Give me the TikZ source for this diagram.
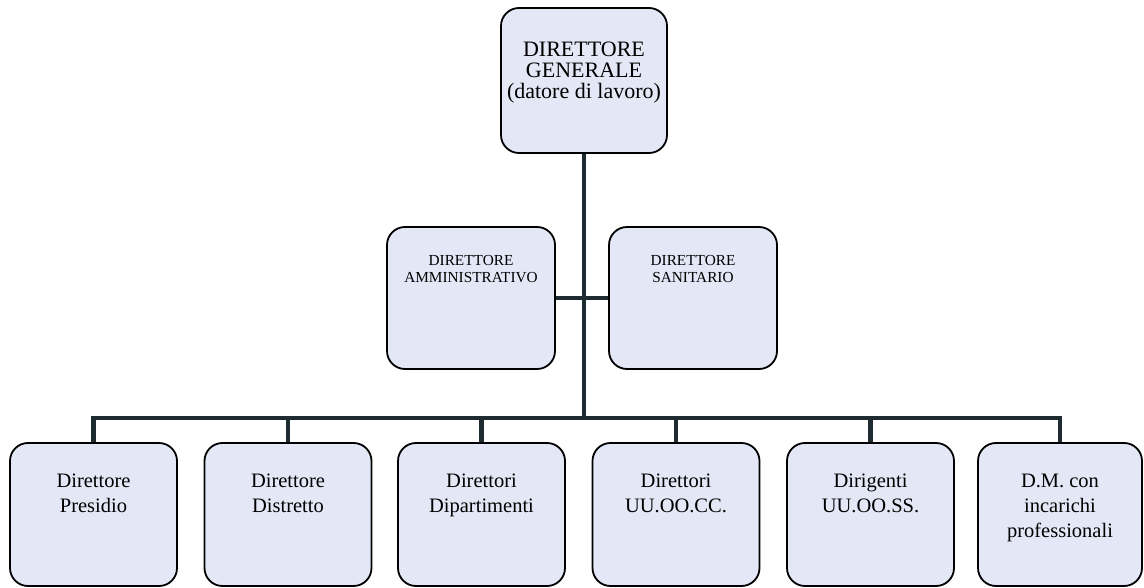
\documentclass[tikz,border=0pt]{standalone}
\usepackage{fontspec}
\setmainfont{Liberation Serif}
\definecolor{boxfill}{RGB}{228,232,246}
\definecolor{linecol}{RGB}{30,44,50}
\begin{document}
\begin{tikzpicture}[x=1pt,y=-1pt,
  orgbox/.style={draw=black, line width=1.8pt, fill=boxfill, rounded corners=18pt, inner sep=0pt},
  conn/.style={draw=linecol, line width=4.5pt},
  toptext/.style={anchor=north, inner sep=0pt, align=center, font=\fontsize{22}{21}\selectfont},
  midtext/.style={anchor=north, inner sep=0pt, align=center, font=\fontsize{15.3}{16.7}\selectfont},
  bottext/.style={anchor=north, inner sep=0pt, align=center, font=\fontsize{20.5}{25}\selectfont}]
\useasboundingbox (0,0) rectangle (1144,588);

% boxes
\node[orgbox, minimum width=166pt, minimum height=145pt] (dg) at (584,80.5) {};
\node[orgbox, minimum width=168pt, minimum height=142pt] (da) at (471,298) {};
\node[orgbox, minimum width=168pt, minimum height=142pt] (ds) at (693,298) {};
\node[orgbox, minimum width=167pt, minimum height=143pt] (b1) at (93.5,514.5) {};
\node[orgbox, minimum width=167pt, minimum height=143pt] (b2) at (288,514.5) {};
\node[orgbox, minimum width=167pt, minimum height=143pt] (b3) at (481.5,514.5) {};
\node[orgbox, minimum width=167pt, minimum height=143pt] (b4) at (676,514.5) {};
\node[orgbox, minimum width=167pt, minimum height=143pt] (b5) at (870.5,514.5) {};
\node[orgbox, minimum width=164pt, minimum height=143pt] (b6) at (1060,514.5) {};

% texts
\node[toptext] (dgt) at ([yshift=-35pt]dg.north) {DIRETTORE\\GENERALE\\(datore di lavoro)};
\node[midtext] (dat) at ([yshift=-29pt]da.north) {DIRETTORE\\AMMINISTRATIVO};
\node[midtext] (dst) at ([yshift=-29pt]ds.north) {DIRETTORE\\SANITARIO};
\node[bottext] (b1t) at ([yshift=-32pt]b1.north) {Direttore\\Presidio};
\node[bottext] (b2t) at ([yshift=-32pt]b2.north) {Direttore\\Distretto};
\node[bottext] (b3t) at ([yshift=-32pt]b3.north) {Direttori\\Dipartimenti};
\node[bottext] (b4t) at ([yshift=-32pt]b4.north) {Direttori\\UU.OO.CC.};
\node[bottext] (b5t) at ([yshift=-32pt]b5.north) {Dirigenti\\UU.OO.SS.};
\node[bottext] (b6t) at ([yshift=-32pt]b6.north) {D.M. con\\incarichi\\professionali};

% connectors
\coordinate (bus) at (dg.south |- 0,418);
\draw[conn] (dg.south) -- (bus);
\draw[conn] (da.east) -- (ds.west);
\draw[conn] (b1.north) |- (bus) -| (b6.north);
\draw[conn] (b2.north) -- (b2.north |- bus);
\draw[conn] (b3.north) -- (b3.north |- bus);
\draw[conn] (b4.north) -- (b4.north |- bus);
\draw[conn] (b5.north) -- (b5.north |- bus);
\end{tikzpicture}
\end{document}
